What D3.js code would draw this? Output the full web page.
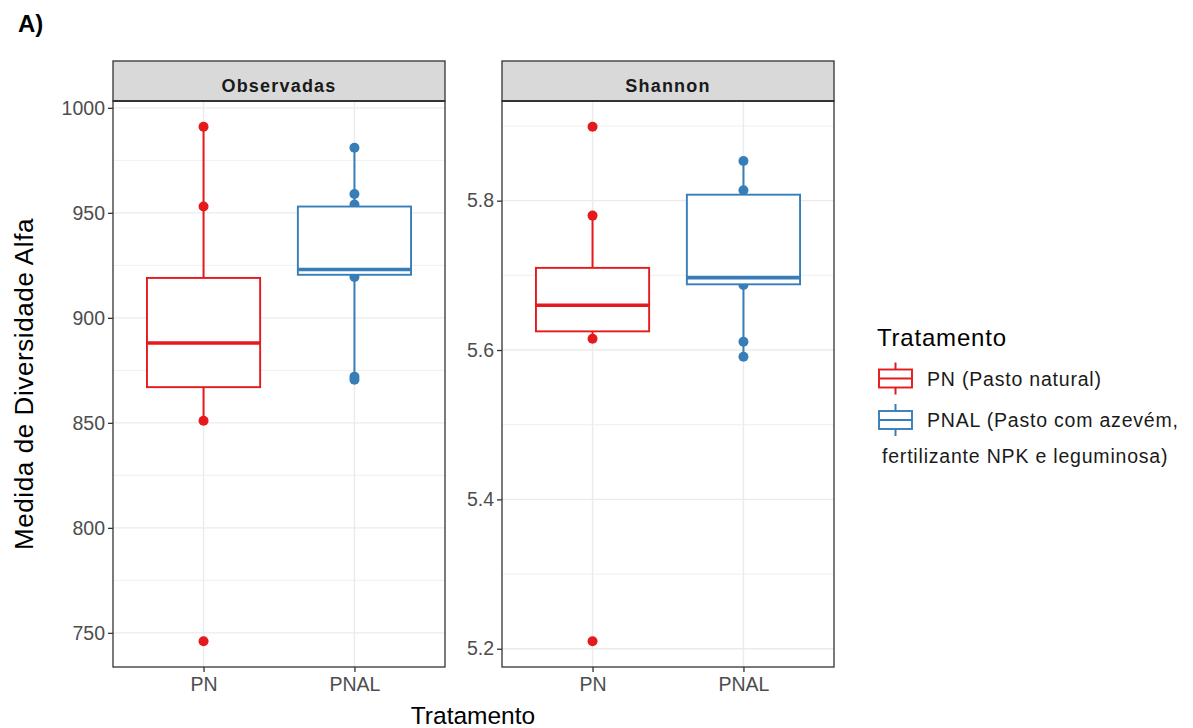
<!DOCTYPE html>
<html>
<head>
<meta charset="utf-8">
<script src="https://cdn.jsdelivr.net/npm/d3@7"></script>
<style>
  body { margin: 0; background: #fff; }
  svg text { font-family: "Liberation Sans", Arial, sans-serif; }
</style>
</head>
<body>
<div id="chart"></div>
<script>
// categories and facets
const categories = ['PN', 'PNAL'];
const metrics = ['Observadas', 'Shannon'];
const colors = ['#E41A1C', '#377EB8'];
const legendLabels = [['PN (Pasto natural)'], ['PNAL (Pasto com azevém,', 'fertilizante NPK e leguminosa)']];

// box stats: [lower whisker, q1, median, q3, upper whisker]
const obsPN = [851, 867, 888, 919, 991];
const obsPNAL = [871, 920.5, 923, 953, 981];
const shanPN = [5.615, 5.625, 5.660, 5.710, 5.780];
const shanPNAL = [5.591, 5.688, 5.697, 5.808, 5.853];

// sample points visible in the plot
const obsPNPoints = [991, 953, 851, 746];
const obsPNALPoints = [981, 959, 954, 919.5, 872, 870.5];
const shanPNPoints = [5.899, 5.780, 5.615, 5.21];
const shanPNALPoints = [5.853, 5.814, 5.687, 5.611, 5.591];

// axis ticks
const obsTicks = [750, 800, 850, 900, 950, 1000];
const obsMinor = [775, 825, 875, 925, 975];
const shanTicks = [5.2, 5.4, 5.6, 5.8];
const shanMinor = [5.3, 5.5, 5.7, 5.9];

const panels = [
  {name: metrics[0], x0: 113, x1: 445, boxes: [obsPN, obsPNAL], points: [obsPNPoints, obsPNALPoints], ticks: obsTicks, minor: obsMinor, fmt: d3.format('d')},
  {name: metrics[1], x0: 502, x1: 834, boxes: [shanPN, shanPNAL], points: [shanPNPoints, shanPNALPoints], ticks: shanTicks, minor: shanMinor, fmt: d3.format('.1f')}
];

const W = 1193, H = 728;
const plotTop = 101, plotBottom = 667, stripTop = 61;
const gridCol = '#EBEBEB', axisText = '#4D4D4D', borderCol = '#333333';

const svg = d3.select('#chart').append('svg').attr('width', W).attr('height', H);

svg.append('text').attr('x', 18).attr('y', 32)
  .attr('font-size', 24).attr('font-weight', 'bold').attr('fill', '#000').text('A)');

panels.forEach((p) => {
  // y domain with ggplot-like 5% expansion
  let all = p.points[0].concat(p.points[1]);
  let lo = d3.min(all), hi = d3.max(all), pad = (hi - lo) * 0.05;
  let y = d3.scaleLinear().domain([lo - pad, hi + pad]).range([plotBottom, plotTop]);
  let x = d3.scalePoint().domain(categories).range([p.x0, p.x1]).padding(0.6);
  let step = x.step();
  let g = svg.append('g');

  // grid
  g.selectAll('.minor').data(p.minor).enter().append('line')
    .attr('x1', p.x0).attr('x2', p.x1).attr('y1', d => y(d)).attr('y2', d => y(d))
    .attr('stroke', gridCol).attr('stroke-width', 0.8);
  g.selectAll('.major').data(p.ticks).enter().append('line')
    .attr('x1', p.x0).attr('x2', p.x1).attr('y1', d => y(d)).attr('y2', d => y(d))
    .attr('stroke', gridCol).attr('stroke-width', 1.4);
  g.selectAll('.vmajor').data(categories).enter().append('line')
    .attr('x1', d => x(d)).attr('x2', d => x(d)).attr('y1', plotTop).attr('y2', plotBottom)
    .attr('stroke', gridCol).attr('stroke-width', 1.4);

  // points
  categories.forEach((c, i) => {
    g.selectAll('.pt' + i).data(p.points[i]).enter().append('circle')
      .attr('cx', x(c)).attr('cy', d => y(d)).attr('r', 5)
      .attr('fill', colors[i]);
  });

  // boxplots
  categories.forEach((c, i) => {
    let s = p.boxes[i], cx = x(c), hw = step * 0.375;
    g.append('line').attr('x1', cx).attr('x2', cx).attr('y1', y(s[3])).attr('y2', y(s[4]))
      .attr('stroke', colors[i]).attr('stroke-width', 2);
    g.append('line').attr('x1', cx).attr('x2', cx).attr('y1', y(s[1])).attr('y2', y(s[0]))
      .attr('stroke', colors[i]).attr('stroke-width', 2);
    g.append('rect').attr('x', cx - hw).attr('width', hw * 2)
      .attr('y', y(s[3])).attr('height', y(s[1]) - y(s[3]))
      .attr('fill', '#fff').attr('stroke', colors[i]).attr('stroke-width', 1.9);
    g.append('line').attr('x1', cx - hw).attr('x2', cx + hw).attr('y1', y(s[2])).attr('y2', y(s[2]))
      .attr('stroke', colors[i]).attr('stroke-width', 3.6);
  });

  // panel border
  g.append('rect').attr('x', p.x0).attr('y', plotTop).attr('width', p.x1 - p.x0).attr('height', plotBottom - plotTop)
    .attr('fill', 'none').attr('stroke', borderCol).attr('stroke-width', 1.3);

  // strip
  g.append('rect').attr('x', p.x0).attr('y', stripTop).attr('width', p.x1 - p.x0).attr('height', plotTop - stripTop)
    .attr('fill', '#D9D9D9').attr('stroke', borderCol).attr('stroke-width', 1.3);
  g.append('line').attr('x1', p.x0).attr('x2', p.x1).attr('y1', plotTop).attr('y2', plotTop)
    .attr('stroke', borderCol).attr('stroke-width', 2);
  g.append('text').attr('x', (p.x0 + p.x1) / 2).attr('y', 92).attr('text-anchor', 'middle')
    .attr('font-size', 18).attr('font-weight', 'bold').attr('letter-spacing', 1.2).attr('fill', '#1A1A1A')
    .text(p.name);

  // axes
  let yAxis = d3.axisLeft(y).tickValues(p.ticks).tickFormat(p.fmt).tickSize(5).tickPadding(3);
  let ya = g.append('g').attr('transform', 'translate(' + p.x0 + ',0)').call(yAxis);
  let xAxis = d3.axisBottom(x).tickSize(5).tickPadding(5);
  let xa = g.append('g').attr('transform', 'translate(0,' + plotBottom + ')').call(xAxis);
  [ya, xa].forEach((a) => {
    a.select('.domain').remove();
    a.selectAll('.tick line').attr('stroke', borderCol).attr('stroke-width', 1.3);
    a.selectAll('.tick text').attr('fill', axisText).attr('font-size', 19.5)
      .attr('font-family', '"Liberation Sans", Arial, sans-serif');
  });
});

// axis titles
svg.append('text').attr('x', 473).attr('y', 724).attr('text-anchor', 'middle')
  .attr('font-size', 24.5).attr('fill', '#000').text('Tratamento');
svg.append('text').attr('transform', 'translate(33,384) rotate(-90)').attr('text-anchor', 'middle')
  .attr('font-size', 26).attr('letter-spacing', 0.6).attr('fill', '#000').text('Medida de Diversidade Alfa');

// legend
let lg = svg.append('g');
lg.append('text').attr('x', 877).attr('y', 346).attr('font-size', 24).attr('letter-spacing', 0.8)
  .attr('fill', '#000').text('Tratamento');
categories.forEach((c, i) => {
  let cy = 378.5 + i * 41.5, x0 = 879, kw = 33;
  lg.append('line').attr('x1', x0 + kw / 2).attr('x2', x0 + kw / 2).attr('y1', cy - 16).attr('y2', cy + 16)
    .attr('stroke', colors[i]).attr('stroke-width', 2);
  lg.append('rect').attr('x', x0).attr('y', cy - 9).attr('width', kw).attr('height', 18)
    .attr('fill', '#fff').attr('stroke', colors[i]).attr('stroke-width', 1.9);
  lg.append('line').attr('x1', x0).attr('x2', x0 + kw).attr('y1', cy).attr('y2', cy)
    .attr('stroke', colors[i]).attr('stroke-width', 1.9);
  legendLabels[i].forEach((t, j) => {
    lg.append('text').attr('x', j === 0 ? 927 : 882).attr('y', cy + 7 + j * 36)
      .attr('font-size', 19.5).attr('letter-spacing', 0.8).attr('fill', '#1A1A1A').text(t);
  });
});
</script>
</body>
</html>
